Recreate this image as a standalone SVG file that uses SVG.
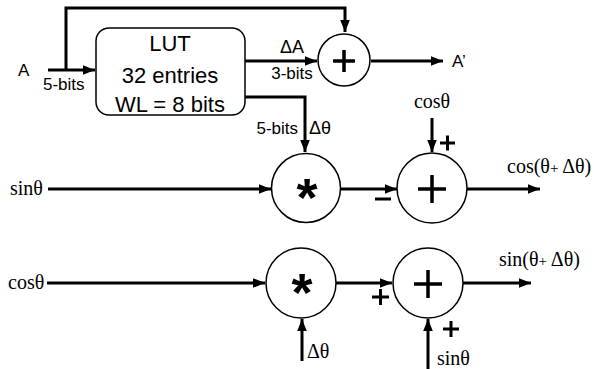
<svg xmlns="http://www.w3.org/2000/svg" width="594" height="369" viewBox="0 0 594 369">
<defs>
<marker id="ah" viewBox="0 0 10 10" refX="10" refY="5" markerWidth="4" markerHeight="4" markerUnits="strokeWidth" orient="auto"><path d="M0,1 L10,5 L0,9 z" fill="#000"/></marker>
<style>
.w{stroke:#000;stroke-width:3;fill:none}
.a{marker-end:url(#ah)}
.c{fill:#fff;stroke:#000;stroke-width:1.5}
.s{font-family:"Liberation Sans",Arial,sans-serif;fill:#000}
.m{font-family:"Liberation Serif","DejaVu Serif",serif;fill:#000}
.op{stroke:#000;stroke-width:3.5;fill:none}
.sg{stroke:#000;stroke-width:3;fill:none}
</style>
</defs>
<rect width="594" height="369" fill="#fff"/>
<g id="connectors">
<path class="w a" d="M48,70 H95"/>
<path class="w a" d="M66,70 V8 H345 V32"/>
<path class="w a" d="M245,61 H317"/>
<path class="w a" d="M371,61 H443"/>
<path class="w a" d="M245,97 H305 V152"/>
<path class="w a" d="M48,189 H271"/>
<path class="w a" d="M341,189 H397"/>
<path class="w a" d="M432,118 V152"/>
<path class="w a" d="M467,189 H540"/>
<path class="w a" d="M47,283 H265"/>
<path class="w a" d="M336,283 H392"/>
<path class="w a" d="M463,283 H531"/>
<path class="w a" d="M302,361 V319"/>
<path class="w a" d="M428,369 V319"/>
</g>
<g id="lut">
<rect x="96" y="28" width="149" height="87" rx="13" fill="#fff" stroke="#000" stroke-width="1.5"/>
<text class="s" x="170" y="51" font-size="22" text-anchor="middle">LUT</text>
<text class="s" x="170" y="83" font-size="22" text-anchor="middle">32 entries</text>
<text class="s" x="170" y="112" font-size="22" text-anchor="middle">WL = 8 bits</text>
</g>
<g id="add1">
<circle class="c" cx="344" cy="60" r="26"/>
<path class="op" d="M333,61 H355 M344,50 V72"/>
</g>
<g id="mul1">
<circle class="c" cx="306" cy="188" r="34.5"/>
<text class="s" x="307" y="216" font-size="54" font-weight="bold" text-anchor="middle">*</text>
</g>
<g id="add2">
<circle class="c" cx="432" cy="188" r="35"/>
<path class="op" d="M418,189 H446 M432,175 V203"/>
</g>
<g id="mul2">
<circle class="c" cx="301" cy="283" r="35"/>
<text class="s" x="302" y="311" font-size="54" font-weight="bold" text-anchor="middle">*</text>
</g>
<g id="add3">
<circle class="c" cx="428" cy="283" r="35"/>
<path class="op" d="M414,284 H442 M428,270 V298"/>
</g>
<g id="labels">
<text class="s" x="18" y="76" font-size="17">A</text>
<text class="s" x="43" y="90" font-size="17">5-bits</text>
<text class="s" x="292" y="53" font-size="18" text-anchor="middle">ΔA</text>
<text class="s" x="292" y="79" font-size="17" text-anchor="middle">3-bits</text>
<text class="s" x="452" y="67" font-size="17">A’</text>
<text class="s" x="298" y="134" font-size="17" text-anchor="end">5-bits</text>
<text class="s" x="309" y="134" font-size="18">Δθ</text>
<text class="m" x="432" y="108" font-size="20" text-anchor="middle">cosθ</text>
<text class="m" x="10" y="195" font-size="20">sinθ</text>
<text class="m" x="8" y="289" font-size="20">cosθ</text>
<text class="m" x="507" y="173" font-size="20">cos(θ<tspan font-size="15">+ </tspan>Δθ)</text>
<text class="m" x="499" y="266" font-size="20">sin(θ<tspan font-size="15">+ </tspan>Δθ)</text>
<text class="m" x="307" y="358" font-size="20">Δθ</text>
<text class="m" x="437" y="365" font-size="20">sinθ</text>
<path class="sg" d="M440,143 H455 M447.5,135.5 V150.5"/>
<path class="sg" d="M375,199 H391"/>
<path class="sg" d="M372,297 H389 M380.5,289 V305"/>
<path class="sg" d="M443,329 H459 M451,321 V337"/>
</g>
</svg>
